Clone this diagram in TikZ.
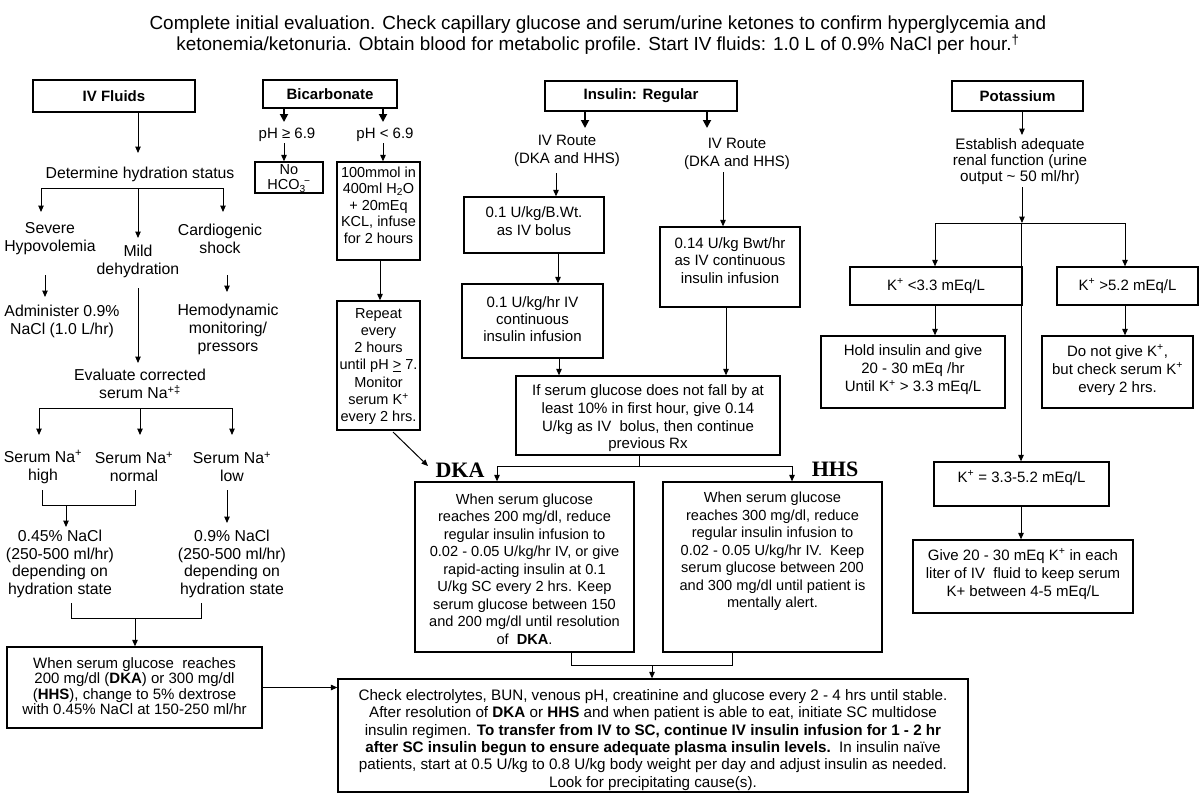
\documentclass[tikz,border=0pt]{standalone}
\usepackage{fontspec}
\setmainfont{Liberation Sans}
\newfontfamily\serifb{Liberation Serif}
\usetikzlibrary{arrows.meta}
\newcommand\fsz[2]{\fontsize{#1}{#2}\selectfont}
\newcommand\sps[1]{\textsuperscript{#1}}
\begin{document}
\begin{tikzpicture}[x=1pt,y=-1pt,
  box/.style={draw, line width=1.3pt, inner sep=0pt},
  txt/.style={inner sep=0pt, align=center, font=\fsz{15}{17.5}},
  ltxt/.style={txt, font=\fsz{15.8}{18}},
  hb/.style={box, align=center, font=\bfseries\fsz{15}{17}},
  arr/.style={line width=1pt, -{Triangle[length=6.5pt,width=5.5pt]}},
  tarr/.style={line width=1.8pt, -{Triangle[length=8pt,width=8pt]}},
  ln/.style={line width=1pt},
  big/.style={inner sep=0pt, font=\serifb\bfseries\fsz{22}{24}}]
\useasboundingbox (0,0) rectangle (1200,796);
\fill[white] (0,0) rectangle (1200,796);

% title
\node[txt, font=\fsz{18.9}{21}] (title) at (598,35.5) {Complete initial evaluation. Check capillary glucose and serum/urine ketones to confirm hyperglycemia and\\ketonemia/ketonuria. Obtain blood for metabolic profile. Start IV fluids: 1.0 L of 0.9\% NaCl per hour.\sps{†}};

% ================= IV fluids =================
\node[hb, minimum width=162pt, minimum height=32pt] (ivf) at (114,96) {IV Fluids};
\coordinate (a1) at (138,153);
\draw[arr] (ivf.south -| a1) -- (a1);
\node[ltxt] (dht) at (140,174) {Determine hydration status};
\coordinate (b1l) at (41,188); \coordinate (b1r) at (223,188); \coordinate (j1) at (138,188);
\coordinate (e1) at (41,212); \coordinate (e2) at (223,212); \coordinate (e3) at (138,238);
\draw[ln] (b1l) -- (b1r);
\draw[arr] (b1l) -- (e1); \draw[arr] (b1r) -- (e2); \draw[arr] (j1) -- (e3);
\node[ltxt] (sev) at (50,239) {Severe\\Hypovolemia};
\node[ltxt] (mild) at (138,261) {Mild\\dehydration};
\node[ltxt] (card) at (220,239) {Cardiogenic\\shock};
\coordinate (s1) at (45,275); \coordinate (s2) at (45,297);
\draw[arr] (s1) -- (s2);
\node[ltxt] (adm) at (62,321) {Administer 0.9\%\\NaCl (1.0 L/hr)};
\coordinate (c1) at (227,275); \coordinate (c2) at (227,292);
\draw[arr] (c1) -- (c2);
\node[ltxt] (hemo) at (228,329) {Hemodynamic\\monitoring/\\pressors};
\coordinate (m1) at (138,288); \coordinate (m2) at (138,363);
\draw[arr] (m1) -- (m2);
\node[ltxt] (evc) at (140,384) {Evaluate corrected\\serum Na\sps{+‡}};
\coordinate (b2l) at (39,408); \coordinate (b2r) at (232,408); \coordinate (j2) at (140,408);
\coordinate (f1) at (39,435); \coordinate (f2) at (140,435); \coordinate (f3) at (232,435);
\draw[ln] (b2l) -- (b2r);
\draw[arr] (b2l) -- (f1); \draw[arr] (j2) -- (f2); \draw[arr] (b2r) -- (f3);
\node[ltxt] (nah) at (43,467) {Serum Na\sps{+}\\high};
\node[ltxt] (nan) at (134,467) {Serum Na\sps{+}\\normal};
\node[ltxt] (nal) at (232,467) {Serum Na\sps{+}\\low};
\coordinate (g1) at (42,490); \coordinate (g2) at (135,490);
\coordinate (g3) at (66,505); \coordinate (g4) at (66,527);
\draw[ln] (g1) -- (g1 |- g3) -- (g2 |- g3) -- (g2);
\draw[arr] (g3) -- (g4);
\coordinate (h1) at (227,490); \coordinate (h2) at (227,523);
\draw[arr] (h1) -- (h2);
\node[ltxt, font=\fsz{15.8}{17.5}] (s045) at (60,564) {0.45\% NaCl\\(250-500 ml/hr)\\depending on\\hydration state};
\node[ltxt, font=\fsz{15.8}{17.5}] (s09) at (232,564) {0.9\% NaCl\\(250-500 ml/hr)\\depending on\\hydration state};
\coordinate (k1) at (71,603); \coordinate (k2) at (201,603);
\coordinate (k3) at (135,618);
\draw[ln] (k1) -- (k1 |- k3) -- (k2 |- k3) -- (k2);
\node[box, minimum width=255pt, minimum height=81pt] (bl) at (134.5,687.5) {};
\node[txt, font=\fsz{15}{15.5}] (blt) at (134.5,686) {When serum glucose\ \ reaches\\200 mg/dl (\textbf{DKA}) or 300 mg/dl\\(\textbf{HHS}), change to 5\% dextrose\\with 0.45\% NaCl at 150-250 ml/hr};
\draw[arr] (k3) -- (k3 |- bl.north);

% ================= Bicarbonate =================
\node[hb, minimum width=134pt, minimum height=28pt] (bic) at (330,94) {Bicarbonate};
\coordinate (p1) at (284,122); \coordinate (p2) at (383,122);
\draw[tarr] (bic.south -| p1) -- (p1);
\draw[tarr] (bic.south -| p2) -- (p2);
\node[txt] (ph1) at (287,135) {pH ≥ 6.9};
\node[txt] (ph2) at (385,135) {pH < 6.9};
\coordinate (q1) at (284,143); \coordinate (q2) at (383,143);
\node[box, minimum width=68pt, minimum height=31pt] (noh) at (289,177.5) {};
\node[txt, font=\fsz{14.5}{15}] (noht) at (289,178.5) {No\\HCO\textsubscript{3}\kern-0.1em\sps{−}};
\node[box, minimum width=83pt, minimum height=98pt] (mm) at (378.5,211) {};
\node[txt, font=\fsz{14.5}{16.5}] (mmt) at (378.5,205) {100mmol in\\400ml H\textsubscript{2}O\\+ 20mEq\\KCL, infuse\\for 2 hours};
\draw[arr] (q1) -- (q1 |- noh.north);
\draw[arr] (q2) -- (q2 |- mm.north);
\node[box, minimum width=83pt, minimum height=129pt] (rep) at (378.5,365.5) {};
\node[txt, font=\fsz{14.5}{17.2}] (rept) at (378.5,366.5) {Repeat\\every\\2 hours\\until pH \underline{>} 7.\\Monitor\\serum K\sps{+}\\every 2 hrs.};
\coordinate (r1) at (380,0);
\draw[arr] (mm.south -| r1) -- (rep.north -| r1);
\coordinate (d1) at (393,432); \coordinate (d2) at (428,466);
\draw[arr] (d1) -- (d2);

% ================= Insulin =================
\node[hb, minimum width=192pt, minimum height=30pt] (ins) at (641,96) {Insulin: Regular};
\coordinate (i1) at (585,128); \coordinate (i2) at (707,128);
\draw[tarr] (ins.south -| i1) -- (i1);
\draw[tarr] (ins.south -| i2) -- (i2);
\node[txt, font=\fsz{15}{18}] (ivr1) at (567,151) {IV Route\\(DKA and HHS)};
\node[txt, font=\fsz{15}{18}] (ivr2) at (737,154) {IV Route\\(DKA and HHS)};
\node[box, minimum width=140pt, minimum height=56pt] (bol) at (534,225) {};
\node[txt, font=\fsz{15}{18}] (bolt) at (534,221) {0.1 U/kg/B.Wt.\\as IV bolus};
\coordinate (t1) at (556,173);
\draw[arr] (t1) -- (t1 |- bol.north);
\node[box, minimum width=141pt, minimum height=74pt] (cont) at (532.5,321) {};
\node[txt, font=\fsz{15}{17}] (contt) at (532.5,319) {0.1 U/kg/hr IV\\continuous\\insulin infusion};
\coordinate (t2) at (558,0);
\draw[arr] (bol.south -| t2) -- (cont.north -| t2);
\node[box, minimum width=140pt, minimum height=80pt] (b014) at (730,267) {};
\node[txt] (b014t) at (730,260.5) {0.14 U/kg Bwt/hr\\as IV continuous\\insulin infusion};
\coordinate (t3) at (723,172);
\draw[arr] (t3) -- (t3 |- b014.north);
\node[box, minimum width=264pt, minimum height=79pt] (ifs) at (648,415.5) {};
\node[txt, font=\fsz{15}{17.6}] (ifst) at (648,418.5) {If serum glucose does not fall by at\\least 10\% in first hour, give 0.14\\U/kg as IV\ \ bolus, then continue\\previous Rx};
\coordinate (t4) at (559,0); \coordinate (t5) at (726,0);
\draw[arr] (cont.south -| t4) -- (ifs.north -| t4);
\draw[arr] (b014.south -| t5) -- (ifs.north -| t5);
\node[box, minimum width=219pt, minimum height=170pt] (dka) at (524.5,567) {};
\node[box, minimum width=219pt, minimum height=170pt] (hhs) at (772.5,567) {};
\node[txt, font=\fsz{14.6}{17.5}] (dkat) at (524.5,569) {When serum glucose\\reaches 200 mg/dl, reduce\\regular insulin infusion to\\0.02 - 0.05 U/kg/hr IV, or give\\rapid-acting insulin at 0.1\\U/kg SC every 2 hrs. Keep\\serum glucose between 150\\and 200 mg/dl until resolution\\of\ \ \textbf{DKA}.};
\node[txt, font=\fsz{14.6}{17.5}] (hhst) at (772.5,551.5) {When serum glucose\\reaches 300 mg/dl, reduce\\regular insulin infusion to\\0.02 - 0.05 U/kg/hr IV.\ \ Keep\\serum glucose between 200\\and 300 mg/dl until patient is\\mentally alert.};
\coordinate (u1) at (639,466); \coordinate (u2) at (497,466); \coordinate (u3) at (792,466);
\draw[ln] (ifs.south -| u1) -- (u1);
\draw[ln] (u2) -- (u3);
\draw[arr] (u2) -- (u2 |- dka.north);
\draw[arr] (u3) -- (u3 |- hhs.north);
\node[big] (dkal) at (460,470) {DKA};
\node[big] (hhsl) at (835,469) {HHS};

% ================= bottom =================
\node[box, minimum width=630pt, minimum height=113pt] (bb) at (653,735.5) {};
\node[txt, font=\fsz{15.2}{17.3}] (bbt) at (653,740) {Check electrolytes, BUN, venous pH, creatinine and glucose every 2 - 4 hrs until stable.\\After resolution of \textbf{DKA} or \textbf{HHS} and when patient is able to eat, initiate SC multidose\\insulin regimen. \textbf{To transfer from IV to SC, continue IV insulin infusion for 1 - 2 hr}\\\textbf{after SC insulin begun to ensure adequate plasma insulin levels.}\ \ In insulin naïve\\patients, start at 0.5 U/kg to 0.8 U/kg body weight per day and adjust insulin as needed.\\Look for precipitating cause(s).};
\coordinate (v1) at (571,665); \coordinate (v2) at (732,665); \coordinate (v3) at (652,665);
\draw[ln] (dka.south -| v1) -- (v1) -- (v2) -- (hhs.south -| v2);
\draw[arr] (v3) -- (v3 |- bb.north);
\draw[arr] (bl.east) -- (bl.east -| bb.west);

% ================= Potassium =================
\node[hb, minimum width=131pt, minimum height=30pt] (pot) at (1017.5,96) {Potassium};
\coordinate (w1) at (1022,135);
\draw[arr] (pot.south -| w1) -- (w1);
\node[txt, font=\fsz{15.2}{16}] (est) at (1020,162) {Establish adequate\\renal function (urine\\output \textasciitilde{} 50 ml/hr)};
\coordinate (w2) at (1022,187); \coordinate (w3) at (1022,223);
\draw[arr] (w2) -- (w3);
\coordinate (x1) at (935,223); \coordinate (x2) at (1125,223); \coordinate (x3) at (1021,223);
\draw[ln] (x1) -- (x2);
\node[box, minimum width=172pt, minimum height=38pt] (klo) at (936,286) {};
\node[txt] (klot) at (936,286) {K\sps{+} <3.3 mEq/L};
\node[box, minimum width=141pt, minimum height=38pt] (khi) at (1127.5,286) {};
\node[txt] (khit) at (1127.5,286) {K\sps{+} >5.2 mEq/L};
\draw[arr] (x1) -- (x1 |- klo.north);
\draw[arr] (x2) -- (x2 |- khi.north);
\node[box, minimum width=184pt, minimum height=72pt] (hold) at (913,372) {};
\node[txt, font=\fsz{15}{18}] (holdt) at (913,370) {Hold insulin and give\\20 - 30 mEq /hr\\Until K\sps{+} > 3.3 mEq/L};
\node[box, minimum width=151pt, minimum height=72pt] (dng) at (1117.5,372) {};
\node[txt, font=\fsz{15}{18}] (dngt) at (1117.5,370) {Do not give K\sps{+},\\but check serum K\sps{+}\\every 2 hrs.};
\draw[arr] (klo.south -| x1) -- (hold.north -| x1);
\draw[arr] (khi.south -| x2) -- (dng.north -| x2);
\node[box, minimum width=175pt, minimum height=44pt] (k33) at (1021.5,484) {};
\node[txt] (k33t) at (1021.5,478) {K\sps{+} = 3.3-5.2 mEq/L};
\draw[arr] (x3) -- (x3 |- k33.north);
\node[box, minimum width=220pt, minimum height=73pt] (give) at (1023,576.5) {};
\node[txt, font=\fsz{15}{18}] (givet) at (1023,574) {Give 20 - 30 mEq K\sps{+} in each\\liter of IV\ \ fluid to keep serum\\K+ between 4-5 mEq/L};
\draw[arr] (k33.south -| x3) -- (give.north -| x3);
\end{tikzpicture}
\end{document}
